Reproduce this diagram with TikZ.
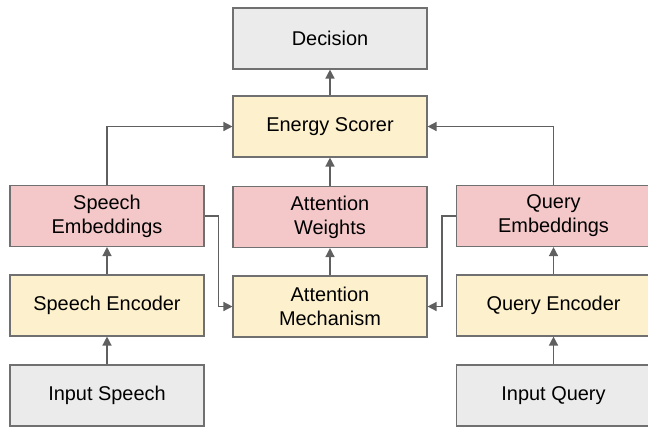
\documentclass[tikz,border=0pt]{standalone}
\usepackage{fontspec}
\setmainfont{Liberation Sans}
\usepackage{tikz}
\usetikzlibrary{arrows.meta}
\definecolor{boxgray}{HTML}{EBEBEB}
\definecolor{boxyellow}{HTML}{FDF0CC}
\definecolor{boxpink}{HTML}{F4C7C8}
\definecolor{linegray}{HTML}{707070}
\definecolor{arrowgray}{HTML}{606060}

\begin{document}
\begin{tikzpicture}[x=1bp,y=-1bp,>={Triangle[length=9bp,width=9bp]}]
			\tikzstyle{block}=[rectangle,draw=linegray,line width=1.1bp,minimum width=194bp,minimum height=61bp,inner sep=0pt,align=center,font=\fontsize{20}{24}\selectfont];
			\tikzstyle{plain}=[block,fill=boxgray];
			\tikzstyle{module}=[block,fill=boxyellow];
			\tikzstyle{embed}=[block,fill=boxpink];
			\tikzstyle{link}=[->,draw=arrowgray,line width=1.4bp];
			\useasboundingbox (0,0) rectangle (648,431);
			\node[plain](dec)at(330,38.5){Decision};
			\node[module](escore)at(330,126.5){Energy Scorer};
			\node[embed](semb)at(107,216){Speech\\Embeddings};
			\node[embed](aweight)at(330,217){Attention\\Weights};
			\node[embed](qemb)at(553.5,216){Query\\Embeddings};
			\node[module](senc)at(107,305.5){Speech Encoder};
			\node[module](amech)at(330,306.5){Attention\\Mechanism};
			\node[module](qenc)at(553.5,305.5){Query Encoder};
			\node[plain](sin)at(107,395.5){Input Speech};
			\node[plain](qin)at(553.5,395.5){Input Query};
			\draw[link](sin)--(senc);
			\draw[link](qin)--(qenc);
			\draw[link](senc)--(semb);
			\draw[link](qenc)--(qemb);
			\draw[link](amech)--(aweight);
			\draw[link](aweight)--(escore);
			\draw[link](escore)--(dec);
			\draw[link](semb.north)|-(escore.west);
			\draw[link](qemb.north)|-(escore.east);
			\draw[link](semb.east)--++(14,0)|-(amech.west);
			\draw[link](qemb.west)--++(-14,0)|-(amech.east);
		\end{tikzpicture}
\end{document}
